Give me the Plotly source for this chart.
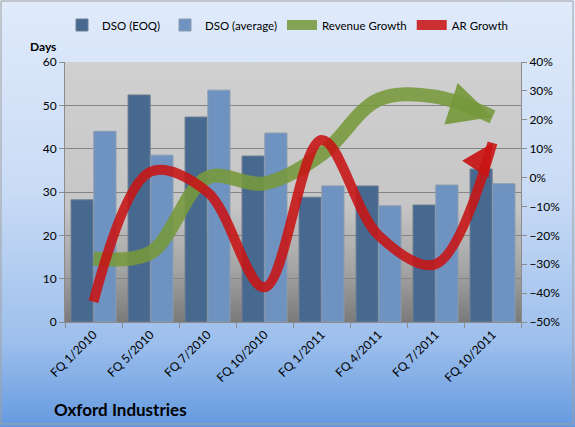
import base64
import plotly.graph_objects as go

categories = ["FQ 1/2010", "FQ 5/2010", "FQ 7/2010", "FQ 10/2010",
              "FQ 1/2011", "FQ 4/2011", "FQ 7/2011", "FQ 10/2011"]
dso_eoq = [28.2, 52.4, 47.3, 38.3, 28.8, 31.4, 27.0, 35.3]
dso_avg = [44.0, 38.5, 53.5, 43.6, 31.4, 26.8, 31.6, 31.9]
revenue_growth = [-28, -26, 0, -2, 8, 27, 28, 21]
ar_growth = [-43, 2, -5, -38, 13, -20, -30, 12]

W, H = 575, 427
L, R, T, B = 65, 54, 62, 105
PW, PH = W - L - R, H - T - B

FONT = "Lato"


def grad_uri(stops):
    st = "".join(f'<stop offset="{o}" stop-color="{c}"/>' for o, c in stops)
    svg = ('<svg xmlns="http://www.w3.org/2000/svg" width="100" height="100" preserveAspectRatio="none">'
           f'<defs><linearGradient id="g" x1="0" y1="0" x2="0" y2="1">{st}</linearGradient></defs>'
           '<rect width="100" height="100" fill="url(#g)"/></svg>')
    return "data:image/svg+xml;base64," + base64.b64encode(svg.encode()).decode()


page_bg = grad_uri([(0, "#e0ebfb"), (0.45, "#c9dbf5"), (0.8, "#9dbfec"), (1, "#6499df")])
plot_bg = grad_uri([(0, "#d0d0d0"), (0.55, "#c6c6c6"), (0.8, "#a4a4a4"), (1, "#7a7a7a")])

GREEN = "#77993c"
RED = "#c81414"

fig = go.Figure()
fig.add_trace(go.Bar(x=categories, y=dso_eoq, name="DSO (EOQ)",
                     marker=dict(color="#47698f", line=dict(color="#6f7f92", width=1))))
fig.add_trace(go.Bar(x=categories, y=dso_avg, name="DSO (average)",
                     marker=dict(color="#6f93c0", line=dict(color="#8a9bb0", width=1))))

fig.add_trace(go.Scatter(
    x=categories, y=revenue_growth, name="Revenue Growth", yaxis="y2",
    mode="lines", line=dict(color=GREEN, width=14, shape="spline", smoothing=1),
    opacity=0.88))
fig.add_trace(go.Scatter(
    x=categories, y=ar_growth, name="AR Growth", yaxis="y2",
    mode="lines", line=dict(color=RED, width=10, shape="spline", smoothing=1),
    opacity=0.88))

arrowheads = [
    dict(x=categories[-1], y=revenue_growth[-1], xref="x", yref="y2",
         showarrow=True, arrowhead=2, arrowsize=2.9, arrowwidth=3, arrowcolor=GREEN,
         ax=-22, ay=-7, text="", opacity=0.92),
    dict(x=categories[-1], y=ar_growth[-1], xref="x", yref="y2",
         showarrow=True, arrowhead=2, arrowsize=2.1, arrowwidth=3, arrowcolor=RED,
         ax=-11, ay=17, text="", opacity=0.92),
]

fig.update_layout(
    width=W, height=H,
    margin=dict(l=L, r=R, t=T, b=B, autoexpand=False),
    paper_bgcolor="rgba(0,0,0,0)", plot_bgcolor="rgba(0,0,0,0)",
    font=dict(family=FONT, size=12, color="#000000"),
    barmode="group", bargap=0.2, bargroupgap=0.03,
    showlegend=True,
    legend=dict(orientation="h", x=0.5, xref="container", xanchor="center",
                y=1 + (T - 25) / PH, yanchor="middle",
                font=dict(size=11.5), bgcolor="rgba(0,0,0,0)", itemwidth=30,
                traceorder="normal"),
    xaxis=dict(range=[-0.5, len(categories) - 0.5], tickangle=-45, ticks="outside",
               ticklen=5, tickcolor="#8c8c8c",
               tickson="boundaries", showline=True, linecolor="#8c8c8c",
               showgrid=False, tickfont=dict(size=12)),
    yaxis=dict(range=[0, 60], dtick=10, ticks="outside", ticklen=5, tickcolor="#8c8c8c",
               showline=True, linecolor="#8c8c8c", showgrid=True, gridcolor="#858585",
               gridwidth=1, zeroline=False, tickfont=dict(size=12)),
    yaxis2=dict(range=[-50, 40], dtick=10, overlaying="y", side="right",
                ticks="outside", ticklen=5, tickcolor="#8c8c8c", showline=True,
                linecolor="#8c8c8c", showgrid=False, zeroline=False,
                ticksuffix="%", tickfont=dict(size=12)),
    images=[
        dict(source=page_bg, xref="paper", yref="paper", x=-L / PW, y=1 + T / PH,
             sizex=W / PW, sizey=H / PH, sizing="stretch", layer="below",
             xanchor="left", yanchor="top"),
        dict(source=plot_bg, xref="paper", yref="paper", x=0, y=1, sizex=1, sizey=1,
             sizing="stretch", layer="below", xanchor="left", yanchor="top"),
    ],
    annotations=arrowheads + [
        dict(text="<b>Days</b>", xref="paper", yref="paper", x=(43 - L) / PW,
             y=1 + (T - 46) / PH, showarrow=False, xanchor="center", yanchor="middle",
             font=dict(size=12)),
        dict(text="<b>Oxford Industries</b>", xref="paper", yref="paper", x=(52 - L) / PW,
             y=1 - (409 - T) / PH, showarrow=False, xanchor="left", yanchor="middle",
             font=dict(size=17)),
    ],
    shapes=[
        dict(type="rect", xref="paper", yref="paper", x0=-L / PW + 1 / PW,
             x1=1 + (R - 2) / PW, y0=-(B - 3) / PH, y1=1 + (T - 1) / PH,
             line=dict(color="#a0a0a0", width=1), fillcolor="rgba(0,0,0,0)"),
    ],
)

fig.write_html("out.html")
